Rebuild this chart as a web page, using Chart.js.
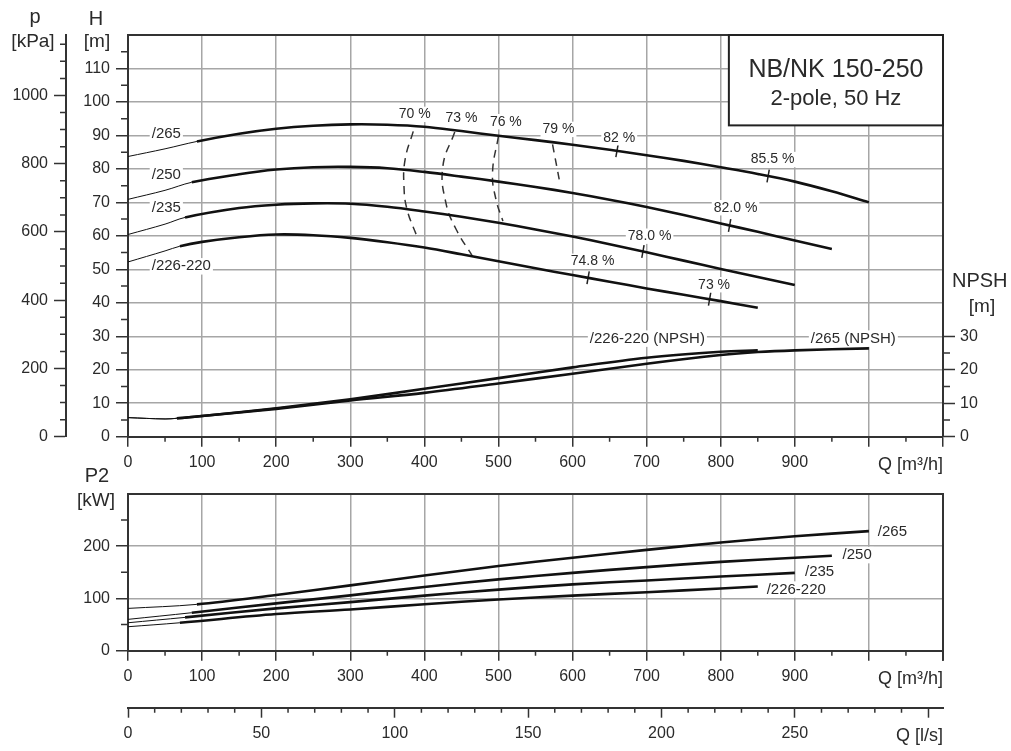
<!DOCTYPE html>
<html><head><meta charset="utf-8">
<script src="https://cdn.jsdelivr.net/npm/chart.js@4.4.0/dist/chart.umd.min.js"></script>
<style>
html,body{margin:0;padding:0;background:#fff;}
#wrap{position:relative;width:1011px;height:751px;overflow:hidden;background:#fff;}
canvas{position:absolute;left:0;}
#cA{top:0;} #cB{top:460px;}
</style></head><body>
<div id="wrap"><canvas id="cA" width="1011" height="480"></canvas><canvas id="cB" width="1011" height="291"></canvas></div>
<script>
// ---------------- DATA ----------------
// Head curves H [m] vs Q [m3/h]
const H265_Q = [0,50,93,150,200,250,300,350,400,450,500,550,600,650,700,750,800,850,900,950,1000];
const H265_V = [83.7,86,88.2,90.5,92,92.9,93.3,93.2,92.6,91.3,89.9,88.6,87.2,85.7,84.1,82.4,80.5,78.5,76.2,73.3,70];
const H250_Q = [0,50,86,150,200,250,300,350,400,450,500,550,600,650,700,750,800,850,900,950];
const H250_V = [70.9,73.6,76,78.4,79.8,80.5,80.6,80.2,79.1,77.7,76.2,74.6,72.8,70.8,68.6,66.2,63.7,61.2,58.6,56.1];
const H235_Q = [0,50,77,150,200,250,300,350,400,450,500,550,600,650,700,750,800,850,900];
const H235_V = [60.4,63.5,65.5,68.3,69.3,69.7,69.6,68.7,67.3,65.7,63.9,61.9,59.8,57.5,55.1,52.6,50.1,47.7,45.3];
const H226_Q = [0,50,70,100,150,200,250,300,350,400,450,500,550,600,650,700,750,800,850];
const H226_V = [52.2,55.5,56.9,58.2,59.6,60.4,60.2,59.4,58.1,56.5,54.5,52.4,50.3,48.3,46.3,44.3,42.4,40.5,38.5];
const H_THIN_END = [93,86,77,70];
const H_NAMES = ['/265','/250','/235','/226-220'];
const H_NAME_Q = [32,32,32,32];
const H_NAME_H = [90.6,78.3,68.5,50.9];

// NPSH [m]
const NPSH226_Q = [0,50,66,100,200,300,400,500,600,700,800,850];
const NPSH226_V = [5.7,5.3,5.5,6.2,8.5,11.2,14.3,17.5,20.7,23.6,25.4,25.8];
const NPSH265_Q = [0,50,66,100,200,300,400,500,600,700,800,850,900,1000];
const NPSH265_V = [5.7,5.3,5.5,6.2,8.3,10.8,13.1,15.9,18.8,21.8,24.4,25.3,25.8,26.4];
const NPSH_THIN_END = 66;
const NPSH_NAMES = ['/226-220 (NPSH)','/265 (NPSH)'];
const NPSH_NAME_Q = [701,979];
const NPSH_NAME_V = [29.3,29.3];

// Efficiency iso-lines (dashed)
const EFF70_Q = [385,374,372.5,376.6,390];  const EFF70_H = [91.2,82.8,74.8,67.9,59.8];
const EFF73_Q = [441,425,429,443,465];      const EFF73_H = [91,80.8,69.9,61.9,53.9];
const EFF76_Q = [500,492,496.6,506];        const EFF76_H = [89.8,78.9,70.9,64.4];
const EFF79_Q = [573,582];                  const EFF79_H = [87.3,76.9];
const EFF_LABELS  = ['70 %','73 %','76 %','79 %','82 %','85.5 %','82.0 %','78.0 %','74.8 %','73 %'];
const EFF_LABEL_Q = [387,450,510,581,663,870,820,704,627,791];
const EFF_LABEL_H = [96.3,95.3,94.1,91.8,89.3,82.8,68.4,59.9,52.4,45.4];
const EFF_MARK_Q = [660,864,812,695,621,785];
const EFF_MARK_H = [85.4,77.9,63.1,55.3,47.5,41.1];

// Power P2 [kW]
const P265_Q = [0,93,200,300,400,500,600,700,800,900,1000];
const P265_V = [81,88.7,106.5,125,144,162,178,193,207,219,229];
const P250_Q = [0,86,200,300,400,500,600,700,800,900,950];
const P250_V = [60,72.7,90.6,106,122,136.5,149,160,170,178,181.7];
const P235_Q = [0,77,200,300,400,500,600,700,800,900];
const P235_V = [53.5,63.8,81,93,105.5,117,127,134.5,142,149];
const P226_Q = [0,70,200,300,400,500,600,700,800,850];
const P226_V = [45.9,53.5,70.2,79,89,98,105.5,112,119,123];
const P_THIN_END = [93,86,77,70];
const P_NAMES = ['/265','/250','/235','/226-220'];
const P_NAME_Q = [1012,964.5,913.7,862];
const P_NAME_V = [227.5,183,150,117];

// Axes / ticks
const Q_MAX = 1100;
const Q_TICKS = [0,100,200,300,400,500,600,700,800,900,1000,1100];
const Q_LABELS = [0,100,200,300,400,500,600,700,800,900];
const H_TICKS = [0,10,20,30,40,50,60,70,80,90,100,110,120];
const H_LABELS = [0,10,20,30,40,50,60,70,80,90,100,110];
const H_MAX = 120;
const KPA_PER_M = 9.81;
const P_KPA_TICKS = [0,200,400,600,800,1000];
const NPSH_TICKS = [0,10,20,30];
const P2_TICKS = [0,100,200,300];
const P2_LABELS = [0,100,200];
const P2_MAX = 300;
const LS_TICKS = [0,50,100,150,200,250,300];
const LS_LABELS = [0,50,100,150,200,250];
const LS_PER_M3H = 1/3.6;

const TITLE1 = 'NB/NK 150-250';
const TITLE2 = '2-pole, 50 Hz';
const TITLE_BOX = {q0: 811, q1: 1100, h0: 93, h1: 120};

// ---------------- STYLE ----------------
const FONT = '"Liberation Sans", Arial, sans-serif';
const AXIS = '#333';
const GRID = '#a6a6a6';
const LINE = '#111';
const TXT = '#2a2a2a';
Chart.defaults.font.family = FONT;
Chart.defaults.color = TXT;

function range(from, to, step, skipMul) {
  const a = [];
  for (let v = from; v <= to + 1e-9; v += step) {
    if (skipMul && Math.abs(v / skipMul - Math.round(v / skipMul)) < 1e-9) continue;
    a.push(+v.toFixed(6));
  }
  return a;
}
const pts = (qs, vs) => qs.map((q, i) => ({x: q, y: vs[i]}));

function curve(qs, vs, thinEnd, axis) {
  return {
    data: pts(qs, vs), yAxisID: axis || 'y', showLine: true,
    borderColor: LINE, pointRadius: 0, borderWidth: 2.6,
    tension: 0.35, fill: false,
    segment: { borderWidth: c => (c.p1.parsed.x <= thinEnd + 1e-6 ? 1 : 2.6) }
  };
}
function dashed(qs, hs) {
  return { data: pts(qs, hs), yAxisID: 'y', showLine: true, borderColor: '#333',
    borderWidth: 1.5, borderDash: [8, 6], pointRadius: 0, tension: 0.45, fill: false };
}

function setTicks(list) { return s => { s.ticks = list.map(v => ({value: v})); }; }
function labelsFrom(list) { return v => (list.indexOf(v) >= 0 ? String(v) : ''); }

function minorTicksPlugin(spec) {
  return { id: 'minorTicks', afterDraw(chart) {
    const ctx = chart.ctx; ctx.save(); ctx.strokeStyle = AXIS; ctx.lineWidth = 1.5;
    for (const id in spec) {
      const s = chart.scales[id]; const {values, len} = spec[id];
      ctx.beginPath();
      values.forEach(v => {
        const p = s.getPixelForValue(v);
        if (s.position === 'left') { ctx.moveTo(s.right, p); ctx.lineTo(s.right - len, p); }
        else if (s.position === 'right') { ctx.moveTo(s.left, p); ctx.lineTo(s.left + len, p); }
        else { ctx.moveTo(p, s.top); ctx.lineTo(p, s.top + len); }
      });
      ctx.stroke();
    }
    ctx.restore();
  }};
}

function drawText(ctx, t, x, y, font, align, baseline, bg) {
  ctx.save();
  ctx.font = font; ctx.textAlign = align || 'center'; ctx.textBaseline = baseline || 'middle';
  if (bg) {
    const w = ctx.measureText(t).width;
    let x0 = align === 'left' ? x : align === 'right' ? x - w : x - w / 2;
    const fs = parseFloat(font.match(/(\d+(\.\d+)?)px/)[1]);
    ctx.fillStyle = '#fff';
    ctx.fillRect(x0 - 2, y - fs * 0.55, w + 4, fs * 1.1);
  }
  ctx.fillStyle = TXT;
  ctx.fillText(t, x, y);
  ctx.restore();
}

const tickFont = {family: FONT, size: 16};
const F_TITLE = '20px ' + FONT;
const F_CURVE = '15px ' + FONT;
const F_PCT = '14px ' + FONT;

// ---------------- CHART A (H / NPSH) ----------------
const dsA = [
  curve(H265_Q, H265_V, H_THIN_END[0]),
  curve(H250_Q, H250_V, H_THIN_END[1]),
  curve(H235_Q, H235_V, H_THIN_END[2]),
  curve(H226_Q, H226_V, H_THIN_END[3]),
  curve(NPSH226_Q, NPSH226_V, NPSH_THIN_END, 'npsh'),
  curve(NPSH265_Q, NPSH265_V, NPSH_THIN_END, 'npsh'),
  dashed(EFF70_Q, EFF70_H), dashed(EFF73_Q, EFF73_H), dashed(EFF76_Q, EFF76_H), dashed(EFF79_Q, EFF79_H),
  { data: pts(EFF_MARK_Q, EFF_MARK_H), yAxisID: 'y', showLine: false, pointStyle: 'line',
    rotation: 100, pointRadius: 6.5, borderColor: '#222', borderWidth: 1.5, backgroundColor: '#222' }
];

const annotA = {
  id: 'annotA',
  beforeDatasetsDraw(chart) {
    const {ctx, chartArea: a, scales: {x, y}} = chart;
    ctx.save();
    ctx.strokeStyle = AXIS; ctx.lineWidth = 2;
    ctx.beginPath(); ctx.moveTo(a.left, a.top); ctx.lineTo(a.right, a.top); ctx.stroke();
    const bx0 = x.getPixelForValue(TITLE_BOX.q0), bx1 = x.getPixelForValue(TITLE_BOX.q1);
    const by0 = y.getPixelForValue(TITLE_BOX.h1), by1 = y.getPixelForValue(TITLE_BOX.h0);
    ctx.fillStyle = '#fff'; ctx.fillRect(bx0, by0, bx1 - bx0, by1 - by0);
    ctx.strokeStyle = '#222'; ctx.lineWidth = 2; ctx.strokeRect(bx0, by0, bx1 - bx0, by1 - by0);
    ctx.restore();
    const cx = (bx0 + bx1) / 2;
    drawText(ctx, TITLE1, cx, by0 + 42, '25px ' + FONT, 'center', 'alphabetic');
    drawText(ctx, TITLE2, cx, by0 + 70, '22px ' + FONT, 'center', 'alphabetic');
  },
  afterDatasetsDraw(chart) {
    const {ctx, scales: {x, y, npsh}} = chart;
    H_NAMES.forEach((t, i) => drawText(ctx, t, x.getPixelForValue(H_NAME_Q[i]), y.getPixelForValue(H_NAME_H[i]), F_CURVE, 'left', 'middle', true));
    NPSH_NAMES.forEach((t, i) => drawText(ctx, t, x.getPixelForValue(NPSH_NAME_Q[i]), npsh.getPixelForValue(NPSH_NAME_V[i]), F_CURVE, 'center', 'middle', true));
    EFF_LABELS.forEach((t, i) => drawText(ctx, t, x.getPixelForValue(EFF_LABEL_Q[i]), y.getPixelForValue(EFF_LABEL_H[i]), F_PCT, 'center', 'middle', true));
  },
  afterDraw(chart) {
    const {ctx, chartArea: a, scales: {x}} = chart;
    drawText(ctx, 'Q [m³/h]', a.right, x.top + 28, '18px ' + FONT, 'right', 'middle');
    drawText(ctx, 'p', 35, 23, F_TITLE, 'center', 'alphabetic');
    drawText(ctx, '[kPa]', 33, 47, '19px ' + FONT, 'center', 'alphabetic');
    drawText(ctx, 'H', 96, 25, F_TITLE, 'center', 'alphabetic');
    drawText(ctx, '[m]', 97, 47, '19px ' + FONT, 'center', 'alphabetic');
    drawText(ctx, 'NPSH', 952, 287, F_TITLE, 'left', 'alphabetic');
    drawText(ctx, '[m]', 982, 312, '19px ' + FONT, 'center', 'alphabetic');
  }
};

new Chart(document.getElementById('cA'), {
  type: 'scatter',
  data: { datasets: dsA },
  options: {
    responsive: false, animation: false, events: [],
    layout: { padding: {left: 0, right: 18, top: 35, bottom: 0} },
    plugins: { legend: {display: false}, tooltip: {enabled: false} },
    scales: {
      x: { type: 'linear', position: 'bottom', min: 0, max: Q_MAX,
        afterFit: s => { s.height = 43.3; }, afterBuildTicks: setTicks(Q_TICKS),
        ticks: { callback: labelsFrom(Q_LABELS), autoSkip: false, maxRotation: 0, font: tickFont, color: TXT, padding: 6 },
        grid: { color: c => (c.tick && c.tick.value > 0 && c.tick.value < Q_MAX ? GRID : 'rgba(0,0,0,0)'), lineWidth: 1.5,
          tickLength: 10, tickColor: AXIS, tickWidth: 1.5 },
        border: { color: AXIS, width: 2 } },
      y: { type: 'linear', position: 'left', weight: 0, min: 0, max: H_MAX,
        afterFit: s => { s.width = 62; }, afterBuildTicks: setTicks(H_TICKS),
        ticks: { callback: labelsFrom(H_LABELS), autoSkip: false, font: tickFont, color: TXT, padding: 6 },
        grid: { color: c => (c.tick && c.tick.value > 0 && c.tick.value < H_MAX ? GRID : 'rgba(0,0,0,0)'), lineWidth: 1.5,
          tickLength: 12, tickColor: c => (c.tick && c.tick.value < H_MAX ? AXIS : 'rgba(0,0,0,0)'), tickWidth: 1.5 },
        border: { color: AXIS, width: 2 } },
      p: { type: 'linear', position: 'left', weight: 1, min: 0, max: H_MAX * KPA_PER_M,
        afterFit: s => { s.width = 66; }, afterBuildTicks: setTicks(P_KPA_TICKS),
        ticks: { callback: labelsFrom(P_KPA_TICKS), autoSkip: false, font: tickFont, color: TXT, padding: 6 },
        grid: { drawOnChartArea: false, tickLength: 12, tickColor: AXIS, tickWidth: 1.5 },
        border: { color: AXIS, width: 2 } },
      npsh: { type: 'linear', position: 'right', min: 0, max: H_MAX,
        afterFit: s => { s.width = 50; }, afterBuildTicks: setTicks(NPSH_TICKS),
        ticks: { callback: labelsFrom(NPSH_TICKS), autoSkip: false, font: tickFont, color: TXT, padding: 5 },
        grid: { drawOnChartArea: false, tickLength: 12, tickColor: AXIS, tickWidth: 1.5 },
        border: { color: AXIS, width: 2 } }
    }
  },
  plugins: [annotA, minorTicksPlugin({
    x: {values: range(50, 1050, 100), len: 5},
    y: {values: range(5, 115, 10), len: 7},
    p: {values: range(50, 1150, 50, 200), len: 6},
    npsh: {values: [5, 15, 25], len: 7}
  })]
});

// ---------------- CHART B (P2) ----------------
const dsB = [
  curve(P265_Q, P265_V, P_THIN_END[0]),
  curve(P250_Q, P250_V, P_THIN_END[1]),
  curve(P235_Q, P235_V, P_THIN_END[2]),
  curve(P226_Q, P226_V, P_THIN_END[3])
];
const annotB = {
  id: 'annotB',
  beforeDatasetsDraw(chart) {
    const {ctx, chartArea: a} = chart;
    ctx.save(); ctx.strokeStyle = AXIS; ctx.lineWidth = 2;
    ctx.beginPath(); ctx.moveTo(a.left, a.top); ctx.lineTo(a.right, a.top); ctx.lineTo(a.right, a.bottom + 10); ctx.stroke();
    ctx.restore();
  },
  afterDatasetsDraw(chart) {
    const {ctx, scales: {x, y}} = chart;
    P_NAMES.forEach((t, i) => drawText(ctx, t, x.getPixelForValue(P_NAME_Q[i]), y.getPixelForValue(P_NAME_V[i]), F_CURVE, 'left', 'middle', true));
  },
  afterDraw(chart) {
    const {ctx, chartArea: a, scales: {x, ls}} = chart;
    drawText(ctx, 'Q [m³/h]', a.right, x.top + 28, '18px ' + FONT, 'right', 'middle');
    drawText(ctx, 'Q [l/s]', a.right, ls.top + 28, '18px ' + FONT, 'right', 'middle');
    drawText(ctx, 'P2', 97, 22, F_TITLE, 'center', 'alphabetic');
    drawText(ctx, '[kW]', 96, 46, '19px ' + FONT, 'center', 'alphabetic');
  }
};
new Chart(document.getElementById('cB'), {
  type: 'scatter',
  data: { datasets: dsB },
  options: {
    responsive: false, animation: false, events: [],
    layout: { padding: {left: 0, right: 68, top: 34, bottom: 0} },
    plugins: { legend: {display: false}, tooltip: {enabled: false} },
    scales: {
      x: { type: 'linear', position: 'bottom', weight: 0, min: 0, max: Q_MAX,
        afterFit: s => { s.height = 57; }, afterBuildTicks: setTicks(Q_TICKS),
        ticks: { callback: labelsFrom(Q_LABELS), autoSkip: false, maxRotation: 0, font: tickFont, color: TXT, padding: 6 },
        grid: { color: c => (c.tick && c.tick.value > 0 && c.tick.value < Q_MAX ? GRID : 'rgba(0,0,0,0)'), lineWidth: 1.5,
          tickLength: 10, tickColor: AXIS, tickWidth: 1.5 },
        border: { color: AXIS, width: 2 } },
      ls: { type: 'linear', position: 'bottom', weight: 1, min: 0, max: Q_MAX * LS_PER_M3H,
        afterFit: s => { s.height = 43.3; }, afterBuildTicks: setTicks(LS_TICKS),
        ticks: { callback: labelsFrom(LS_LABELS), autoSkip: false, maxRotation: 0, font: tickFont, color: TXT, padding: 6 },
        grid: { drawOnChartArea: false, tickLength: 10, tickColor: AXIS, tickWidth: 1.5 },
        border: { color: AXIS, width: 2 } },
      y: { type: 'linear', position: 'left', min: 0, max: P2_MAX,
        afterFit: s => { s.width = 128; }, afterBuildTicks: setTicks(P2_TICKS),
        ticks: { callback: labelsFrom(P2_LABELS), autoSkip: false, font: tickFont, color: TXT, padding: 6 },
        grid: { color: c => (c.tick && c.tick.value > 0 && c.tick.value < P2_MAX ? GRID : 'rgba(0,0,0,0)'), lineWidth: 1.5,
          tickLength: 12, tickColor: c => (c.tick && c.tick.value < P2_MAX ? AXIS : 'rgba(0,0,0,0)'), tickWidth: 1.5 },
        border: { color: AXIS, width: 2 } }
    }
  },
  plugins: [annotB, minorTicksPlugin({
    x: {values: range(50, 1050, 100), len: 5},
    ls: {values: range(10, 300, 10, 50), len: 5},
    y: {values: [50, 150, 250], len: 7}
  })]
});
</script>
</body></html>
